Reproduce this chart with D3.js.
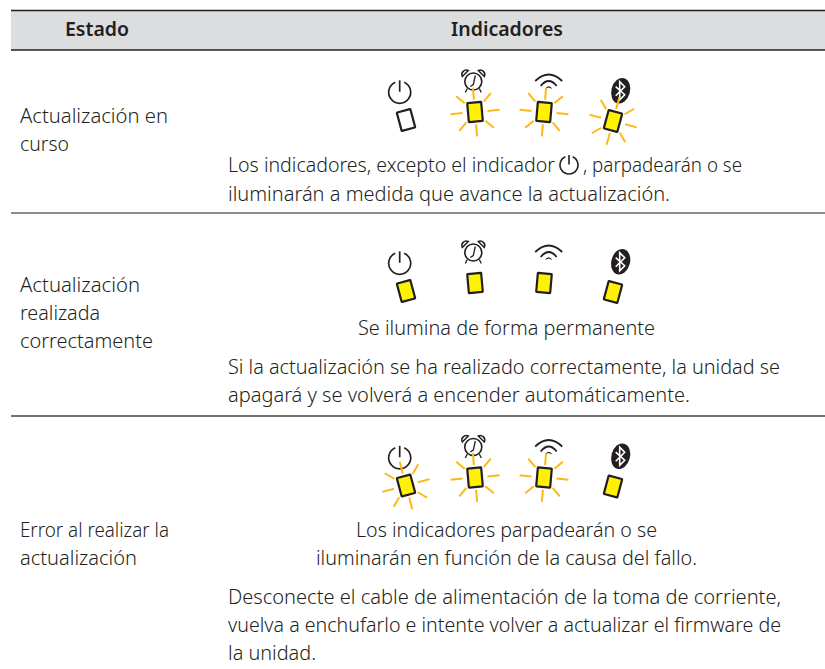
<!DOCTYPE html>
<html><head><meta charset="utf-8">
<script src="https://cdnjs.cloudflare.com/ajax/libs/d3/7.8.5/d3.min.js"></script>
<style>html,body{margin:0;padding:0;background:#fff}svg{display:block}text{font-family:"Noto Sans",sans-serif;fill:#231f20}</style>
</head><body><div id="c"></div>
<script>
const headers = ["Estado", "Indicadores"];
const states = [["Actualización en","curso"],["Actualización","realizada","correctamente"],["Error al realizar la","actualización"]];
const indicators = ["power","alarm","wifi","bluetooth"];
const ledFill = [[0,1,1,1],[1,1,1,1],[1,1,1,1]];
const ledFlash = [[0,1,1,1],[0,0,0,0],[1,1,1,0]];
const notes = [
 [{t:"Los indicadores, excepto el indicador",x:228,y:172,w:327},{t:", parpadearán o se",x:583,y:172,w:159},{t:"iluminarán a medida que avance la actualización.",x:228,y:201,w:442}],
 [{t:"Se ilumina de forma permanente",x:358,y:335,w:297},{t:"Si la actualización se ha realizado correctamente, la unidad se",x:228,y:374,w:552},{t:"apagará y se volverá a encender automáticamente.",x:228,y:402,w:462}],
 [{t:"Los indicadores parpadearán o se",x:356,y:537,w:301},{t:"iluminarán en función de la causa del fallo.",x:316,y:565,w:381},{t:"Desconecte el cable de alimentación de la toma de corriente,",x:228,y:604,w:553},{t:"vuelva a enchufarlo e intente volver a actualizar el firmware de",x:228,y:632,w:553},{t:"la unidad.",x:228,y:660,w:88}]
];
const stateWs = [[148,49],[120,80,133],[149,117]];
const stateY = [123,292,537];
const rowOffset = [0,171,365.5];
const ruleY = [10.5,50,213,416];
const ruleColor = ["#231f20","#231f20","#666666","#444444"];

const W=825,H=669;
const svg=d3.select("#c").append("svg").attr("width",W).attr("height",H);
const x=d3.scalePoint().domain(indicators).range([406,613]);
const ledY={power:120,alarm:112,wifi:112,bluetooth:121};
const ledRot={power:-15,alarm:-5,wifi:5,bluetooth:15};
const FS=19.5;

svg.append("rect").attr("x",11).attr("y",ruleY[0]).attr("width",W-11).attr("height",ruleY[1]-ruleY[0]).attr("fill","#dcddde");
svg.selectAll("line.rule").data(ruleY).join("line").attr("class","rule").attr("x1",11).attr("x2",W).attr("y1",d=>d).attr("y2",d=>d).attr("stroke",(d,i)=>ruleColor[i]).attr("stroke-width",1.4);
svg.append("text").attr("x",97).attr("y",36).attr("text-anchor","middle").attr("font-size",19.5).attr("font-weight",600).text(headers[0]);
svg.append("text").attr("x",507).attr("y",36).attr("text-anchor","middle").attr("font-size",19.5).attr("font-weight",600).text(headers[1]);

states.forEach((ls,i)=>{
  svg.selectAll(null).data(ls).join("text").attr("x",20).attr("y",(d,j)=>stateY[i]+j*28).attr("font-size",FS).attr("font-weight",300)
    .attr("textLength",(d,j)=>stateWs[i][j]).attr("lengthAdjust","spacingAndGlyphs").text(d=>d);
  svg.selectAll(null).data(notes[i]).join("text").attr("x",d=>d.x).attr("y",d=>d.y).attr("font-size",FS).attr("font-weight",300)
    .attr("textLength",d=>d.w).attr("lengthAdjust","spacingAndGlyphs").text(d=>d.t);
});

function powerIcon(g,r,sw){
  const a=d3.arc().innerRadius(r).outerRadius(r).startAngle(0.42).endAngle(2*Math.PI-0.42);
  g.append("path").attr("d",a()).attr("fill","none").attr("stroke","#231f20").attr("stroke-width",sw);
  g.append("line").attr("y1",-r-1).attr("y2",-r*0.05).attr("stroke","#231f20").attr("stroke-width",sw);
}
function alarmIcon(g){
  const k="#231f20";
  g.append("circle").attr("r",8.5).attr("fill","#fff").attr("stroke",k).attr("stroke-width",1.6);
  g.append("path").attr("d","M-11,-5 A4.5,4.5 0 0 1 -5,-11 Z M11,-5 A4.5,4.5 0 0 0 5,-11 Z").attr("fill","none").attr("stroke",k).attr("stroke-width",1.5);
  g.append("path").attr("d","M2,-6 L0,3 L-3,5 M-6,7 L-8,11 M6,7 L8,11").attr("fill","none").attr("stroke",k).attr("stroke-width",1.3);
}
function wifiIcon(g){
  const k="#231f20";
  g.append("path").attr("d","M-13.5,0 Q0,-13 13.5,0 M-8,5 Q0,-5 8,5").attr("fill","none").attr("stroke",k).attr("stroke-width",1.8);
  g.append("path").attr("d","M-3.8,8 Q0,2.5 3.8,8 L0,6.5 Z").attr("fill",k);
}
function btIcon(g){
  g.append("ellipse").attr("rx",9.3).attr("ry",13).attr("transform","rotate(15)").attr("fill","#231f20");
  g.append("path").attr("d","M-5,-4 L4,4 L-1,9 L-1,-9 L4,-4 L-5,5").attr("fill","none").attr("stroke","#fff").attr("stroke-width",1.6);
}
const iconPos={power:[399.7,92.3],alarm:[473.3,81.5],wifi:[548.7,81],bluetooth:[620.7,90.7]};
const rays=d3.range(8);
const rayStart=d=>d%2?13.5:12.5;
rowOffset.forEach((dy,i)=>{
  indicators.forEach((ind,j)=>{
    const cx=x(ind),cy=ledY[ind]+dy;
    const ic=svg.append("g").attr("transform",`translate(${iconPos[ind][0]},${iconPos[ind][1]+dy})`);
    if(ind==="power")powerIcon(ic,11,1.7);
    if(ind==="alarm")alarmIcon(ic);
    if(ind==="wifi")wifiIcon(ic);
    if(ind==="bluetooth")btIcon(ic);
    const g=svg.append("g").attr("transform",`translate(${cx},${cy}) rotate(${ledRot[ind]})`);
    if(ledFlash[i][j]){
      g.selectAll("line").data(rays).join("line")
       .attr("x1",d=>rayStart(d)*Math.sin(d*Math.PI/4)).attr("y1",d=>-rayStart(d)*Math.cos(d*Math.PI/4))
       .attr("x2",d=>24.5*Math.sin(d*Math.PI/4)).attr("y2",d=>-24.5*Math.cos(d*Math.PI/4))
       .attr("stroke","#fdb813").attr("stroke-width",2);
    }
    g.append("rect").attr("x",-7).attr("y",-9.5).attr("width",14).attr("height",19).attr("rx",.5)
     .attr("fill",ledFill[i][j]?"#fff200":"#fff").attr("stroke","#231f20").attr("stroke-width",2.2);
  });
});
powerIcon(svg.append("g").attr("transform","translate(569,165)"),9,1.6);
</script></body></html>
